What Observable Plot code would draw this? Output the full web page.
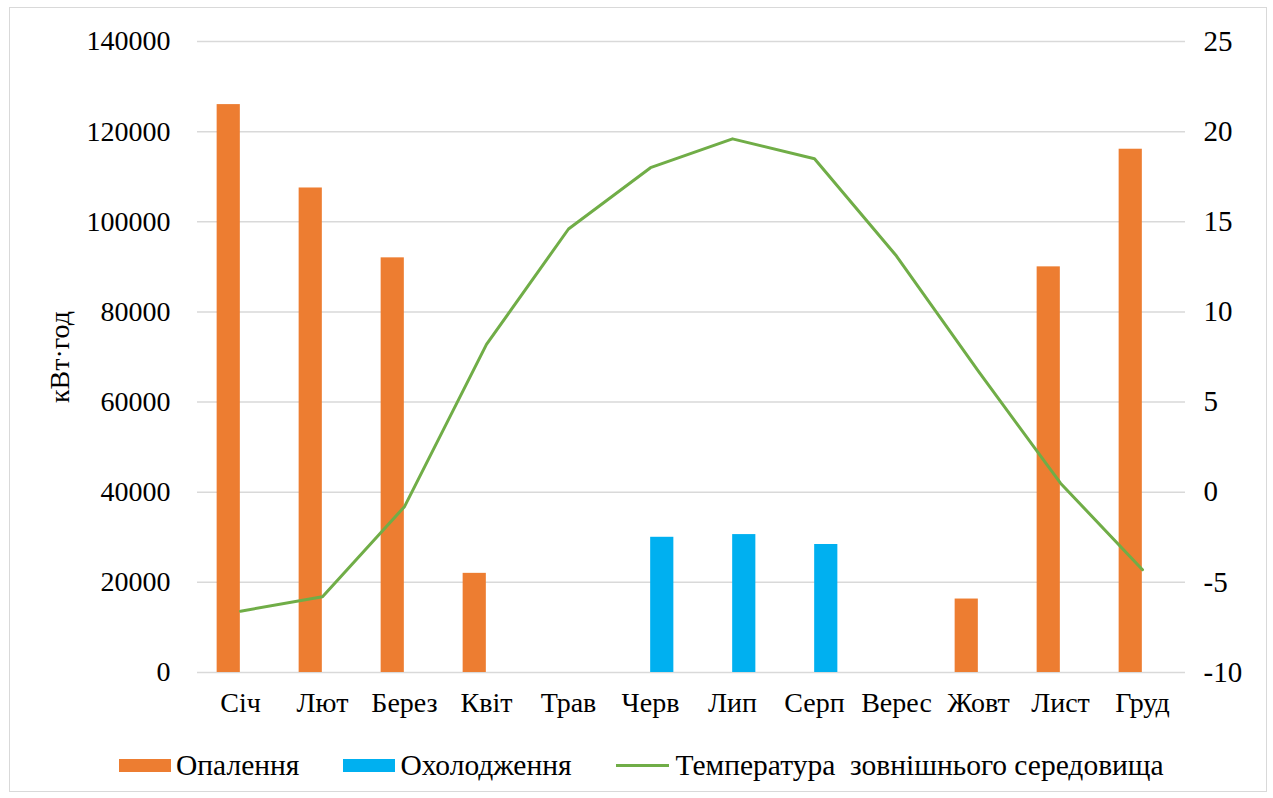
<!DOCTYPE html>
<html>
<head>
<meta charset="utf-8">
<script src="https://cdn.jsdelivr.net/npm/d3@7"></script>
<script src="https://cdn.jsdelivr.net/npm/@observablehq/plot@0.6"></script>
<style>
  body { margin: 0; background: #fff; font-family: "Liberation Serif", "Times New Roman", serif; }
  #frame { position: absolute; left: 9px; top: 7px; width: 1258px; height: 785px; border: 1.5px solid #d9d9d9; box-sizing: border-box; pointer-events: none; }
  #chart { position: absolute; left: 0; top: 0; }
  #chart svg, #chart svg text { font-family: "Liberation Serif", "Times New Roman", serif; font-variant: normal; font-variant-numeric: normal; }
  #legend { position: absolute; left: 119px; top: 749px; display: flex; align-items: center; font-size: 29.5px; color: #000; white-space: pre; }
  .item { display: flex; align-items: center; margin-right: 44px; }
  .swatch { width: 52px; height: 13px; margin-right: 5px; }
  .stroke { width: 53px; height: 3px; margin-right: 7px; background: #70AD47; }
</style>
</head>
<body>
<div id="chart"></div>
<div id="legend"></div>
<div id="frame"></div>
<script>
// Monthly energy demand (kWh) and mean outdoor temperature (°C)
const months = ["Січ", "Лют", "Берез", "Квіт", "Трав", "Черв", "Лип", "Серп", "Верес", "Жовт", "Лист", "Груд"];
const heating = [126000, 107500, 92000, 22000, 0, 0, 0, 0, 0, 16300, 90000, 116100];
const cooling = [0, 0, 0, 0, 0, 30000, 30600, 28400, 0, 0, 0, 0];
const temperature = [-6.6, -5.8, -0.8, 8.2, 14.6, 18.0, 19.6, 18.5, 13.1, 6.7, 0.5, -4.3];

const energyTicks = [0, 20000, 40000, 60000, 80000, 100000, 120000, 140000];
const tempTicks = [-10, -5, 0, 5, 10, 15, 20, 25];

const seriesNames = ["Опалення", "Охолодження", "Температура  зовнішнього середовища"];
const colors = ["#ED7D31", "#00B0F0", "#70AD47"];
const yLabel = "кВт·год";

// Secondary (temperature) axis is mapped onto the energy scale
const yMax = energyTicks[energyTicks.length - 1];
const tMin = tempTicks[0], tMax = tempTicks[tempTicks.length - 1];
const toY = t => (t - tMin) * yMax / (tMax - tMin);
const fromY = y => Math.round(y * (tMax - tMin) / yMax + tMin);

const rows = months.map((m, i) => ({ month: m, heating: heating[i], cooling: cooling[i], temp: temperature[i] }));

const width = 1273, height = 740;
const marginLeft = 197, marginRight = 88, marginTop = 41, marginBottom = 68;
const band = (width - marginLeft - marginRight) / months.length;
const barW = band / 3.5; // two clustered bars with a 150% gap

const chart = Plot.plot({
  width, height, marginLeft, marginRight, marginTop, marginBottom,
  style: { fontFamily: "'Liberation Serif', 'Times New Roman', serif", fontSize: "28px", color: "#000", background: "transparent" },
  x: { type: "band", domain: months, padding: 0 },
  y: { domain: [0, yMax] },
  marks: [
    Plot.ruleY(energyTicks, { stroke: "#d9d9d9", strokeWidth: 1.5 }),
    Plot.barY(rows, { x: "month", y: "heating", fill: colors[0], insetLeft: 0.75 * barW, insetRight: band - 1.75 * barW }),
    Plot.barY(rows, { x: "month", y: "cooling", fill: colors[1], insetLeft: 1.75 * barW, insetRight: band - 2.75 * barW }),
    Plot.line(rows, { x: "month", y: d => toY(d.temp), stroke: colors[2], strokeWidth: 3, strokeLinejoin: "round" }),
    Plot.axisX({ tickSize: 0, tickPadding: 20, fontSize: 28, label: null }),
    Plot.axisY(energyTicks, { anchor: "left", tickSize: 0, tickPadding: 27, fontSize: 28, fontVariant: "normal", label: null, tickFormat: d => String(d) }),
    Plot.axisY(tempTicks.map(toY), { anchor: "right", tickSize: 0, tickPadding: 18, fontSize: 29, fontVariant: "normal", label: null, tickFormat: d => String(fromY(d)) }),
    Plot.text([yLabel], { frameAnchor: "left", dx: -137, rotate: -90, fontSize: 28, textAnchor: "middle" })
  ]
});
document.getElementById("chart").append(chart);

// Legend below the chart
const legend = document.getElementById("legend");
seriesNames.forEach((name, i) => {
  const item = document.createElement("div");
  item.className = "item";
  const key = document.createElement("div");
  if (i < 2) { key.className = "swatch"; key.style.background = colors[i]; }
  else { key.className = "stroke"; }
  const label = document.createElement("span");
  label.textContent = name;
  item.append(key, label);
  legend.append(item);
});
</script>
</body>
</html>
